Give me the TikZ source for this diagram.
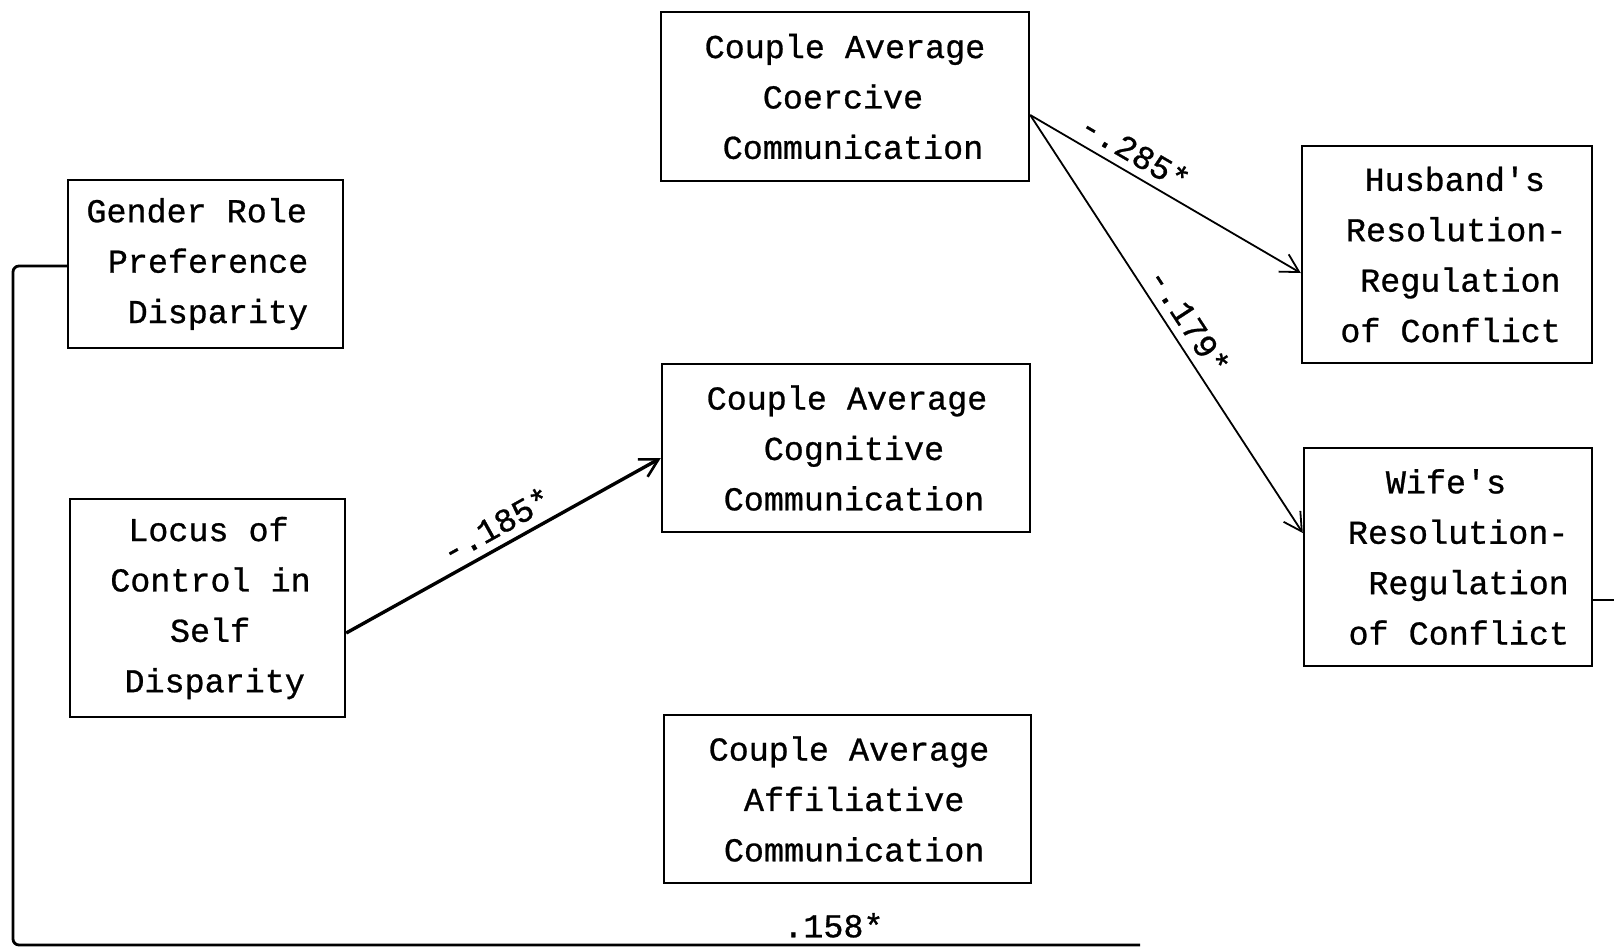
\documentclass[tikz,border=0pt]{standalone}
\usepackage{fontspec}
\newfontfamily\typew[FakeBold=0.8]{Liberation Mono}
\usetikzlibrary{arrows.meta}
% shift one line of a centred block sideways by #1 pt
\newcommand\sh[2]{\kern#1pt #2\kern-#1pt}
\begin{document}
\begin{tikzpicture}[x=0.5pt,y=-0.5pt,
  every node/.style={font=\typew\fontsize{16.7pt}{25.2pt}\selectfont},
  varbox/.style={draw,line width=1.2pt,inner sep=0pt,align=center},
  path3/.style={line width=0.9pt,-{Straight Barb[length=9pt,width=10pt,line width=0.9pt]}},
  pathbold/.style={line width=1.7pt,-{Straight Barb[length=9pt,width=10pt,line width=1.3pt]}},
  coef/.style={sloped,above=4pt,inner sep=0pt},
  loopline/.style={line width=1.4pt,rounded corners=3pt}]
\useasboundingbox (0,0) rectangle (1614,950);

% variables
\node[varbox,minimum width=184pt,minimum height=84.5pt] (coer) at (845,96.5)
  {Couple Average\\\sh{-1}{Coercive}\\\sh{4}{Communication}};
\node[varbox,minimum width=184pt,minimum height=84pt] (cogn) at (846,448)
  {\sh{0.5}{Couple Average}\\\sh{4}{Cognitive}\\\sh{4}{Communication}};
\node[varbox,minimum width=183.5pt,minimum height=84pt] (affi) at (847.5,799)
  {\sh{0.75}{Couple Average}\\\sh{3.35}{Affiliative}\\\sh{3.35}{Communication}};
\node[varbox,minimum width=137.5pt,minimum height=84pt] (gend) at (205.5,264)
  {\sh{-4.4}{Gender Role}\\\sh{1.3}{Preference}\\\sh{6.2}{Disparity}};
\node[varbox,minimum width=137.5pt,minimum height=109pt] (locus) at (207.5,608)
  {\sh{0.5}{Locus of}\\\sh{1.5}{Control in}\\\sh{1.3}{Self}\\\sh{3.6}{Disparity}};
\node[varbox,minimum width=145pt,minimum height=108.5pt] (husb) at (1447,254.5)
  {\sh{3.9}{Husband's}\\\sh{4.6}{Resolution-}\\\sh{6.7}{Regulation}\\\sh{1.8}{of Conflict}};
\node[varbox,minimum width=144pt,minimum height=109pt] (wife) at (1448,557)
  {\sh{-1}{Wife's}\\\sh{5.1}{Resolution-}\\\sh{10.3}{Regulation}\\\sh{5.4}{of Conflict}};

% paths
\draw[path3] (coer.east |- 0,115) -- (husb.west |- 0,273)
  node[coef,pos=0.35] {-.285*};
\draw[path3] (coer.east |- 0,115) -- (wife.west |- 0,533)
  node[coef,pos=0.52] {-.179*};
\draw[pathbold] (locus.east |- 0,633) -- (cogn.west |- 0,458)
  node[coef,pos=0.51] {-.185*};

% long path from gender role disparity round the bottom
\coordinate (lc) at (13,945);
\coordinate (le) at (1140,945);
\draw[loopline] (gend.west |- 0,266) -| (lc) -- (le)
  node[pos=0.728,above=3pt,inner sep=0pt] {.158*};

% stub leaving the wife's box on the right
\coordinate (edgeR) at (1614,600);
\draw[line width=1.2pt] (wife.east |- 0,600) -- (edgeR);
\end{tikzpicture}
\end{document}
